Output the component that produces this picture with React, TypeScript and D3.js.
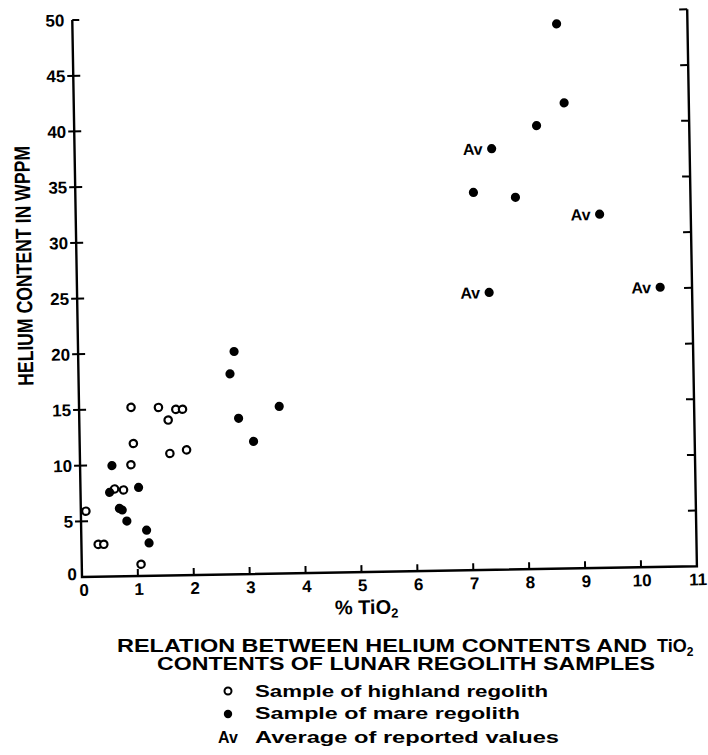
import React, { useEffect, useRef } from 'react'
import * as d3 from 'd3'

// % TiO2 vs helium content (wppm)
const highlandTiO2 = [0.09, 0.30, 0.40, 0.61, 0.77, 0.91, 0.96, 0.93, 1.06, 1.42, 1.59, 1.73, 1.85, 1.61, 1.91]
const highlandHe = [5.9, 2.9, 2.9, 7.85, 7.75, 10.0, 11.9, 15.15, 1.05, 15.1, 13.95, 14.9, 14.9, 10.95, 11.25]

const mareTiO2 = [0.57, 0.52, 0.69, 0.74, 0.82, 1.04, 1.17, 1.21, 2.71, 2.79, 2.85, 3.11, 3.58, 8.66, 8.77, 8.27, 7.12, 7.87]
const mareHe = [9.95, 7.55, 6.1, 5.95, 4.95, 7.95, 4.1, 2.95, 18.0, 20.0, 14.0, 11.9, 15.0, 48.9, 41.8, 39.8, 33.9, 33.4]

const avgTiO2 = [7.46, 9.37, 7.37, 10.43]
const avgHe = [37.8, 31.75, 24.9, 25.1]

const xTicks = [0, 1, 2, 3, 4, 5, 6, 7, 8, 9, 10, 11]
const yTicks = [0, 5, 10, 15, 20, 25, 30, 35, 40, 45, 50]

const FONT = '"Liberation Sans", Arial, Helvetica, sans-serif'

export default function App() {
  const ref = useRef<SVGSVGElement>(null)

  useEffect(() => {
    const el = ref.current
    if (!el) return
    const svg = d3.select(el)
    svg.selectAll('*').remove()

    const x = d3.scaleLinear().domain([0, 11]).range([82, 697])
    const y = d3.scaleLinear().domain([0, 50]).range([577, 20])
    const x0 = x(0), y0 = y(0), xr = x(11)

    // the scan is tilted about a degree
    const g = svg.append('g')
      .attr('transform', `rotate(-1, ${x0}, ${y0})`)
      .attr('font-family', FONT)
      .attr('font-weight', 'bold')

    g.append('path')
      .attr('d', `M${x0},${y(50)}L${x0},${y0}L${xr},${y0}L${xr},${y(50)}`)
      .attr('fill', 'none').attr('stroke', '#000').attr('stroke-width', 2.4)

    const yt = yTicks.filter(d => d > 0)
    g.selectAll('line.yl').data(yt).enter().append('line')
      .attr('x1', d => d === 50 ? x0 : x0 - 6).attr('x2', x0 + 7)
      .attr('y1', d => y(d)).attr('y2', d => y(d))
      .attr('stroke', '#000').attr('stroke-width', 2)
    g.selectAll('line.yr').data(yt).enter().append('line')
      .attr('x1', xr - 8).attr('x2', xr)
      .attr('y1', d => y(d)).attr('y2', d => y(d))
      .attr('stroke', '#000').attr('stroke-width', 2)
    g.selectAll('line.xt').data(xTicks.filter(d => d > 0 && d < 11)).enter().append('line')
      .attr('x1', d => x(d)).attr('x2', d => x(d))
      .attr('y1', y0).attr('y2', y0 - 7)
      .attr('stroke', '#000').attr('stroke-width', 2)

    g.selectAll('text.yl').data(yTicks).enter().append('text')
      .attr('x', d => d === 0 ? x0 - 5 : x0 - 8)
      .attr('y', d => d === 0 ? y(d) - 3 : y(d))
      .attr('dy', '0.36em').attr('text-anchor', 'end')
      .attr('font-size', 17).text(d => d)
    g.selectAll('text.xl').data(xTicks).enter().append('text')
      .attr('x', d => x(d) + (d === 0 ? 2 : 1)).attr('y', y0 + 19)
      .attr('text-anchor', 'middle').attr('font-size', 17).text(d => d)

    g.append('text')
      .attr('transform', `translate(29, 265) rotate(-90)`)
      .attr('text-anchor', 'middle').attr('dy', '0.36em')
      .attr('font-size', 22).attr('textLength', 240).attr('lengthAdjust', 'spacingAndGlyphs')
      .text('HELIUM CONTENT IN WPPM')

    const xl = g.append('text').attr('x', 366).attr('y', 619)
      .attr('text-anchor', 'middle').attr('font-size', 20)
    xl.append('tspan').text('% TiO')
    xl.append('tspan').attr('font-size', 13).attr('dy', 4).text('2')

    const hl = d3.range(highlandTiO2.length)
    g.selectAll('circle.hl').data(hl).enter().append('circle')
      .attr('cx', i => x(highlandTiO2[i])).attr('cy', i => y(highlandHe[i]))
      .attr('r', 3.7).attr('fill', '#fff').attr('stroke', '#000').attr('stroke-width', 2.2)

    const mr = d3.range(mareTiO2.length)
    g.selectAll('circle.mr').data(mr).enter().append('circle')
      .attr('cx', i => x(mareTiO2[i])).attr('cy', i => y(mareHe[i]))
      .attr('r', 4.6).attr('fill', '#000')

    const av = d3.range(avgTiO2.length)
    g.selectAll('circle.av').data(av).enter().append('circle')
      .attr('cx', i => x(avgTiO2[i])).attr('cy', i => y(avgHe[i]))
      .attr('r', 4.6).attr('fill', '#000')
    g.selectAll('text.av').data(av).enter().append('text')
      .attr('x', i => x(avgTiO2[i]) - 9).attr('y', i => y(avgHe[i]))
      .attr('dy', '0.36em').attr('text-anchor', 'end').attr('font-size', 16)
      .text('Av')

    // caption + key
    const c = svg.append('g').attr('font-family', FONT).attr('font-weight', 'bold')
    c.append('text').attr('x', 117).attr('y', 652).attr('font-size', 18)
      .attr('textLength', 530).attr('lengthAdjust', 'spacingAndGlyphs')
      .text('RELATION BETWEEN HELIUM CONTENTS AND')
    const t2 = c.append('text').attr('x', 657).attr('y', 652).attr('font-size', 18)
    t2.append('tspan').text('TiO')
    t2.append('tspan').attr('font-size', 12).attr('dy', 4).text('2')
    c.append('text').attr('x', 157).attr('y', 670).attr('font-size', 18)
      .attr('textLength', 498).attr('lengthAdjust', 'spacingAndGlyphs')
      .text('CONTENTS OF LUNAR REGOLITH SAMPLES')

    c.append('circle').attr('cx', 228).attr('cy', 691).attr('r', 3.5)
      .attr('fill', '#fff').attr('stroke', '#000').attr('stroke-width', 2)
    c.append('circle').attr('cx', 228).attr('cy', 714).attr('r', 4.2).attr('fill', '#000')
    c.append('text').attr('x', 218).attr('y', 743).attr('font-size', 16).text('Av')

    const keys = [
      { t: 'Sample of highland regolith', y: 697, w: 293 },
      { t: 'Sample of mare regolith', y: 719, w: 265 },
      { t: 'Average of reported values', y: 743, w: 304 },
    ]
    c.selectAll('text.key').data(keys).enter().append('text')
      .attr('x', 255).attr('y', d => d.y).attr('font-size', 16)
      .attr('textLength', d => d.w).attr('lengthAdjust', 'spacingAndGlyphs')
      .text(d => d.t)
  }, [])

  return (
    <svg ref={ref} width={708} height={755}
      style={{ position: 'absolute', left: 0, top: 0, background: '#fff' }} />
  )
}
